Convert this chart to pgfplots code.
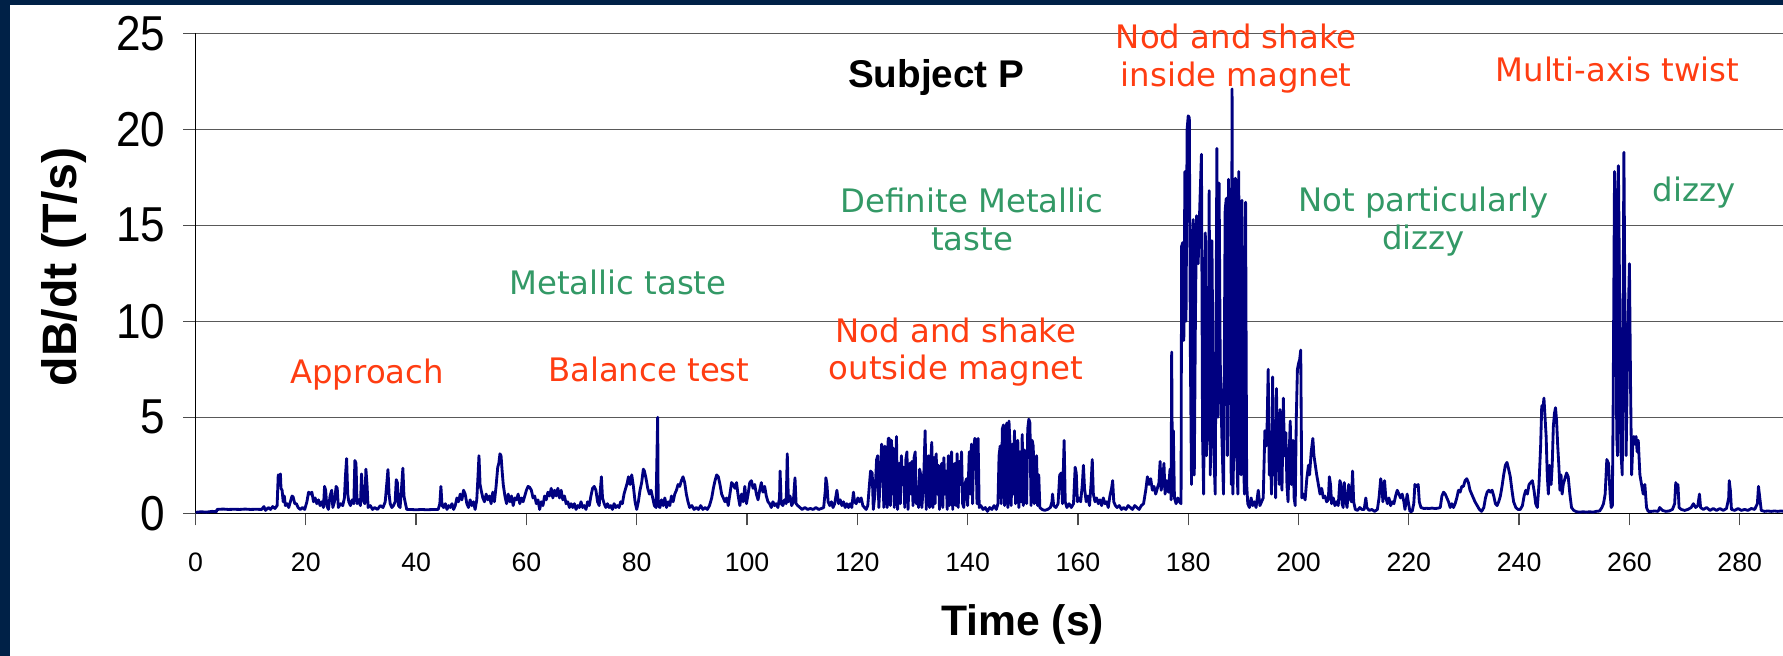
\documentclass[border=0pt]{standalone}
\usepackage{fontspec}
\setmainfont{Liberation Sans}
\newfontfamily\annotfont{DejaVu Sans}
\newfontfamily\ytickfont{Liberation Sans}[FakeStretch=0.9]
\usepackage{pgfplots}
\pgfplotsset{compat=1.18}
\definecolor{slidenavy}{HTML}{002147}
\definecolor{dataline}{HTML}{000080}
\definecolor{annred}{HTML}{FF3D12}
\definecolor{anngreen}{HTML}{339966}

\begin{document}
\begin{tikzpicture}
\fill[white] (0,0) rectangle (534.9pt,196.8pt);
\fill[slidenavy] (0,0) rectangle (2.9pt,196.8pt);
\fill[slidenavy] (0,195.4pt) rectangle (534.9pt,196.8pt);
\path[use as bounding box] (0,0) rectangle (534.9pt,196.8pt);
\begin{axis}[
    at={(58.65pt,42.81pt)}, anchor=south west,
    scale only axis, width=476.25pt, height=144pt,
    xmin=0, xmax=287.85, ymin=0, ymax=25,
    axis x line*=bottom, axis y line*=left,
    axis line style={-, black, line width=0.4pt},
    xtick={0,20,...,280}, ytick={0,5,...,25},
    ymajorgrids, major grid style={black!65, line width=0.45pt},
    tick align=outside, major tick length=3.6pt,
    tick style={black!70, line width=0.4pt},
    /pgf/number format/assume math mode=true,
    xticklabel style={font=\fontsize{8}{8}\selectfont, yshift=-4.7pt},
    yticklabel style={font=\ytickfont\fontsize{14.7}{14.7}\selectfont, xshift=-1.9pt},
    xlabel={Time (s)},
    ylabel={dB/dt (T/s)},
    xlabel style={font=\bfseries\fontsize{12.8}{12.8}\selectfont, at={(axis description cs:0.521,-0.2326)}, anchor=center},
    ylabel style={font=\bfseries\fontsize{14.5}{14.5}\selectfont, at={(axis description cs:-0.0829,0.513)}, anchor=center},
    clip mode=individual,
]
\addplot[dataline, line width=0.85pt, line join=round] coordinates {
(0,0.05) (1,0.08) (2,0.06) (3,0.1) (3.8,0.08) (3.9,0.2) (5,0.22) (6,0.2) (7,0.21) (8,0.2) (9,0.22) (10,0.2) (11,0.21) (12,0.2) (12.4,0.35) (12.7,0.15) (13.2,0.3) (13.6,0.2) (14,0.35) (14.4,0.25) (14.8,0.4)
(15,2.0) (15.2,1.9) (15.4,2.05) (15.5,1.3) (15.7,1.2) (15.9,0.6) (16.1,0.9) (16.3,0.4) (16.6,0.5) (16.9,0.3) (17.2,0.6) (17.5,0.9) (17.7,0.85) (18,0.5) (18.3,0.5) (18.6,0.3) (19,0.2) (19.4,0.3) (19.8,0.2)
(20.2,0.6) (20.5,1.1) (20.8,1.0) (21.1,1.1) (21.4,0.6) (21.7,0.8) (22,0.5) (22.3,0.7) (22.6,0.4) (22.9,0.6) (23.2,0.3) (23.4,1.4) (23.6,1.2) (23.8,0.4) (24.1,0.2) (24.4,0.9) (24.7,1.2) (24.9,0.3) (25.2,0.6) (25.5,1.4) (25.7,1.3) (25.9,0.3) (26.3,0.5) (26.7,0.4) (27,0.8)
(27.2,2.0) (27.4,2.85) (27.6,1.0) (27.8,0.6) (28.1,0.4) (28.4,0.7) (28.7,0.5) (28.9,2.75) (29.1,2.6) (29.3,0.5) (29.6,0.7) (29.9,0.4) (30.1,2.05) (30.3,1.0) (30.5,0.6) (30.7,0.5) (30.9,2.3) (31.1,1.5) (31.3,0.3) (31.7,0.4) (32.1,0.2)
(32.5,0.3) (33,0.2) (33.5,0.4) (34,0.3) (34.4,0.6) (34.7,1.6) (34.9,2.28) (35.1,1.0) (35.3,0.5) (35.6,0.3) (35.9,0.4) (36.2,0.6) (36.4,1.75) (36.6,1.6) (36.8,0.4) (37.1,0.3) (37.4,1.5) (37.6,2.35) (37.8,0.9) (38,0.6) (38.3,0.2)
(39,0.2) (40,0.18) (41,0.2) (42,0.18) (43,0.2) (44,0.2) (44.3,0.5) (44.5,1.4) (44.7,0.4) (45,0.3) (45.3,0.5) (45.6,0.2) (45.9,0.4) (46.2,0.3) (46.5,0.5) (46.8,0.2) (47.1,0.4)
(47.4,0.8) (47.7,0.6) (48,1.0) (48.3,0.7) (48.6,1.2) (48.9,1.0) (49.2,0.5) (49.5,0.3) (49.8,0.7) (50.1,0.4) (50.4,0.6) (50.7,0.2) (51,0.7) (51.2,1.8) (51.4,3.0) (51.6,1.5) (51.8,1.2) (52.1,0.8) (52.4,0.6) (52.7,1.0) (53,0.7) (53.3,0.9) (53.6,0.5) (53.9,1.1) (54.2,0.6) (54.5,1.4) (54.8,2.4) (55,2.6) (55.2,3.1) (55.4,3.0) (55.6,2.2) (55.8,1.5)
(56.1,0.9) (56.4,0.5) (56.7,1.0) (57,0.6) (57.3,0.9) (57.6,0.4) (57.9,0.8) (58.2,0.7) (58.5,1.0) (58.8,0.5) (59.1,0.8) (59.4,0.6) (59.7,0.9) (60,1.2) (60.3,1.4) (60.6,1.35) (60.9,1.2) (61.2,0.8) (61.5,0.9) (61.8,0.5) (62.1,0.7) (62.4,0.2) (62.7,0.6) (63,0.4)
(63.3,0.9) (63.6,0.7) (63.9,1.1) (64.2,0.9) (64.5,1.3) (64.8,0.8) (65.1,1.2) (65.4,0.9) (65.7,1.3) (66,0.8) (66.3,1.2) (66.6,0.7) (66.9,0.9) (67.2,0.5) (67.5,0.6) (67.8,0.3) (68.1,0.5) (68.4,0.3) (68.7,0.5) (69,0.2) (69.3,0.4) (69.6,0.3) (69.9,0.6) (70.2,0.3) (70.5,0.4) (70.8,0.2) (71.1,0.6) (71.4,0.4)
(71.7,0.9) (72,1.3) (72.3,1.4) (72.6,1.2) (72.9,0.6) (73.2,0.4) (73.4,1.2) (73.6,1.9) (73.8,0.8) (74.1,0.5) (74.4,0.3) (74.7,0.5) (75,0.3) (75.3,0.4) (75.6,0.2) (75.9,0.5) (76.2,0.3) (76.5,0.4) (76.8,0.3) (77.1,0.6) (77.4,0.5) (77.7,1.0) (78,1.3) (78.3,1.6) (78.5,1.9) (78.8,1.5) (79.1,2.0) (79.4,1.4) (79.7,0.6) (80,0.2)
(80.3,0.6) (80.6,1.2) (80.9,1.6) (81.2,2.3) (81.4,2.2) (81.7,1.8) (82,1.3) (82.3,1.0) (82.6,1.2) (82.9,0.8) (83.2,0.4) (83.5,0.3) (83.8,5.0) (83.9,0.4) (84.2,0.3)
(84.5,0.7) (84.8,0.4) (85.1,0.8) (85.4,0.3) (85.7,0.6) (86,0.4) (86.3,0.9) (86.6,0.6) (86.9,1.0) (87.2,1.2) (87.5,1.5) (87.8,1.4) (88.1,1.7) (88.4,1.9) (88.7,1.6) (89,1.0) (89.3,0.6) (89.6,0.3) (90,0.4) (90.4,0.2) (90.8,0.3) (91.2,0.2) (91.6,0.4) (92,0.2) (92.4,0.3) (92.8,0.2) (93.2,0.4) (93.6,0.8)
(93.9,1.3) (94.2,1.7) (94.5,2.0) (94.8,1.9) (95.1,1.5) (95.4,1.0) (95.7,0.8) (96,0.6) (96.3,0.8) (96.6,0.4) (96.9,1.0) (97.2,1.6) (97.5,1.5) (97.8,1.3) (98.1,1.6) (98.4,0.9) (98.7,0.4) (99,1.0) (99.3,0.6) (99.6,1.4) (99.9,0.5)
(100.2,1.0) (100.5,1.6) (100.8,1.7) (101.1,1.3) (101.4,1.5) (101.7,1.0) (102,0.7) (102.3,1.2) (102.6,1.6) (102.9,1.1) (103.2,1.4) (103.5,0.9) (103.8,0.6) (104.1,0.5) (104.4,0.3) (104.7,0.6) (105,0.4) (105.3,0.5) (105.6,0.3) (105.9,0.8) (106,2.2) (106.2,0.5) (106.5,0.4) (106.8,0.7) (107.1,0.5) (107.3,3.1) (107.5,0.6) (107.8,0.9) (108.1,0.4) (108.4,0.6) (108.7,1.85) (108.9,0.5) (109.2,0.4) (109.6,0.3)
(110,0.2) (110.5,0.3) (111,0.2) (111.5,0.25) (112,0.2) (112.5,0.3) (113,0.2) (113.5,0.25) (113.9,0.3) (114.2,1.2) (114.3,1.85) (114.5,1.5) (114.7,0.6) (115,0.4)
(115.3,0.6) (115.6,0.3) (115.9,0.5) (116.3,1.2) (116.6,0.5) (116.9,0.7) (117.2,0.4) (117.5,0.6) (117.8,0.3) (118.1,0.5) (118.4,0.3) (118.7,0.5) (119,0.3) (119.3,1.1) (119.5,0.6) (119.8,0.5) (120.1,0.8) (120.4,0.6) (120.7,0.8) (121,0.4) (121.3,0.3) (121.6,0.2) (121.9,0.4)
(122.2,1.5) (122.4,2.2) (122.7,2.1) (122.9,0.2) (123.2,1.0) (123.5,2.8) (123.7,3.0) (123.9,0.3) (124.2,2.0) (124.4,3.6) (124.6,3.3) (124.8,0.3) (125,3.5) (125.2,2.0) (125.4,0.3) (125.6,3.9) (125.8,3.9) (126,0.4) (126.2,3.8) (126.4,1.0) (126.5,3.4) (126.7,0.3) (127,2.5) (127.1,4.0) (127.3,0.2) (127.6,2.6) (127.8,0.5) (128,3.0) (128.2,1.5) (128.4,2.4) (128.6,0.3) (128.8,2.8) (129,3.2) (129.2,0.2) (129.5,2.6) (129.7,1.0) (129.9,2.7) (130.1,0.4) (130.3,2.9) (130.5,3.2) (130.7,0.5) (130.9,1.2) (131.1,0.3) (131.3,2.3) (131.5,2.0) (131.7,0.3) (132,1.5) (132.3,4.3) (132.5,0.2) (132.7,2.4) (132.9,3.0) (133.1,0.3) (133.3,2.6) (133.5,3.7) (133.7,0.3) (133.9,2.9) (134.1,0.5) (134.3,3.1) (134.5,1.0) (134.7,2.5) (134.9,0.2)
(135.1,2.1) (135.3,2.6) (135.5,0.3) (135.7,2.9) (135.9,1.0) (136.1,2.2) (136.3,0.2) (136.5,3.0) (136.7,0.4) (136.9,2.7) (137.1,3.2) (137.3,0.2) (137.5,2.0) (137.7,2.6) (137.9,0.4) (138.1,3.1) (138.3,0.3) (138.5,2.7) (138.7,1.5) (138.9,3.2) (139.1,0.5) (139.3,0.3) (139.6,1.6) (139.8,1.8) (140,0.4) (140.3,3.2) (140.5,1.0) (140.7,3.6) (140.9,0.5) (141.1,3.3) (141.3,3.9) (141.5,3.8) (141.7,0.5) (141.9,3.9) (142.1,0.3)
(142.4,0.4) (142.8,0.2) (143.2,0.3) (143.6,0.1) (144,0.3) (144.4,0.2) (144.8,0.4) (145.2,0.2) (145.5,0.5)
(145.7,3.0) (145.9,3.5) (146.1,0.5) (146.3,4.4) (146.5,4.6) (146.7,0.4) (146.9,4.2) (147.1,4.7) (147.3,0.3) (147.5,4.8) (147.7,3.5) (147.9,0.4) (148.1,3.6) (148.3,1.0) (148.5,4.3) (148.7,0.5) (148.9,3.0) (149.1,3.8) (149.3,0.3) (149.5,3.2) (149.7,0.6) (149.9,4.1) (150.1,0.4) (150.3,3.3) (150.5,2.5) (150.7,0.5) (150.9,4.4) (151.1,4.9) (151.3,4.7) (151.5,0.4) (151.7,3.8) (151.9,3.5) (152.1,0.5) (152.3,2.0) (152.5,3.0) (152.7,0.4) (152.9,2.0) (153.1,0.3)
(153.5,0.2) (154,0.15) (154.5,0.2) (155,0.3) (155.3,0.6) (155.4,1.0) (155.6,0.4) (156,0.3) (156.4,0.5) (156.7,2.0) (157,2.1) (157.2,0.5) (157.5,3.8) (157.7,0.6) (158,0.3) (158.4,0.5) (158.8,0.3) (159.2,0.5) (159.5,2.4) (159.7,2.1) (159.9,0.6) (160.2,0.8) (160.5,0.6) (160.8,1.5) (161,2.5) (161.2,1.3) (161.5,0.6) (161.8,0.9) (162.1,0.4) (162.4,1.6) (162.6,2.8) (162.8,1.0) (163.1,0.6) (163.4,0.8) (163.7,0.5) (164,0.7) (164.3,0.4) (164.6,0.8) (164.9,0.5) (165.2,0.6) (165.5,0.3) (165.8,0.9) (166.1,1.3) (166.3,1.7) (166.5,0.6) (166.8,0.4) (167.1,0.3) (167.5,0.4) (167.9,0.2) (168.3,0.3) (168.7,0.2) (169.1,0.4) (169.5,0.3) (169.9,0.2) (170.3,0.4) (170.7,0.3) (171.1,0.2) (171.5,0.4) (171.9,0.5)
(172.3,1.2) (172.6,1.9) (172.9,1.5) (173.2,1.8) (173.5,1.2) (173.8,1.4) (174.1,1.0) (174.4,1.3) (174.7,1.6) (174.9,2.7) (175.1,1.2) (175.4,1.8) (175.6,2.6) (175.8,1.0) (176.1,1.7) (176.4,1.1) (176.7,2.3) (176.9,0.7) (177,8.4) (177.15,1.0) (177.3,4.3) (177.5,0.8) (177.8,0.5) (178.1,0.8) (178.4,0.6)
(178.7,0.5) (178.8,13.9) (179,14.1) (179.2,9.0) (179.4,17.8) (179.6,10.0) (179.8,20.0) (180,20.7) (180.2,20.6) (180.4,8.0) (180.6,1.5) (180.9,15.3) (181.1,2.0) (181.3,10.0) (181.5,15.5) (181.8,13.0) (182.1,16.0) (182.4,18.7) (182.6,4.0) (182.8,1.0) (183.1,14.6) (183.3,3.0) (183.6,6.0) (183.8,16.8) (184,2.0) (184.3,14.2) (184.6,3.5) (184.9,1.0) (185.2,19.0) (185.4,5.0) (185.6,17.2) (185.8,8.0) (186.1,4.0) (186.4,1.0) (186.7,15.8) (186.9,16.4) (187.1,3.0) (187.3,17.4) (187.6,10.0) (187.8,1.5) (187.95,22.1) (188.1,1.0) (188.3,4.0) (188.55,17.45) (188.8,3.0) (189,1.0) (189.15,17.8) (189.4,6.0) (189.6,2.0) (189.75,16.3) (190,3.0) (190.2,1.0) (190.4,16.2) (190.6,1.5) (190.8,0.5)
(191.1,0.3) (191.4,0.8) (191.7,0.4) (192,0.6) (192.3,0.3) (192.7,1.2) (193,0.4) (193.3,0.6) (193.6,0.8)
(193.9,4.3) (194.1,3.5) (194.3,4.5) (194.5,7.5) (194.7,2.0) (194.9,3.5) (195.1,1.0) (195.3,7.1) (195.5,2.0) (195.7,3.0) (195.85,0.8) (196,6.5) (196.2,2.5) (196.3,5.2) (196.5,1.5) (196.65,5.4) (196.85,2.0) (197,1.2) (197.25,6.0) (197.45,3.0) (197.7,4.2) (197.9,1.5) (198.1,0.6) (198.3,3.0) (198.5,4.8) (198.7,1.5) (199,3.8) (199.2,0.8) (199.4,0.4) (199.6,5.0) (199.8,7.5) (200,7.8) (200.2,8.0) (200.4,8.5) (200.6,0.8) (200.9,1.0)
(201.2,0.7) (201.5,1.8) (201.8,2.5) (202,2.0) (202.3,3.2) (202.6,3.9) (202.8,3.0) (203,2.6) (203.3,2.0) (203.6,1.5) (203.9,1.0) (204.2,1.3) (204.5,0.8) (204.8,0.9) (205.1,0.6) (205.4,0.7) (205.6,1.9) (205.8,1.5) (206,0.5)
(206.3,0.8) (206.6,0.4) (206.9,0.6) (207.2,0.4) (207.5,1.7) (207.7,1.5) (207.9,0.5) (208.1,0.3) (208.3,1.6) (208.5,0.8) (208.8,0.3) (209.1,1.5) (209.3,0.8) (209.6,0.6) (209.8,2.2) (210,0.6) (210.3,0.2) (210.7,0.15) (211.1,0.3) (211.5,0.2) (211.9,0.2) (212.2,0.8) (212.4,0.3) (212.8,0.15) (213.3,0.2) (213.8,0.1) (214.3,0.2)
(214.6,0.8) (214.9,1.8) (215.1,1.5) (215.3,0.6) (215.6,1.7) (215.8,0.9) (216.1,0.5) (216.4,0.8) (216.7,0.4) (217,0.6) (217.3,0.5) (217.6,0.9) (217.9,1.2) (218.2,1.0) (218.5,0.8) (218.8,1.0) (219.1,0.6) (219.3,0.2) (219.7,1.0) (219.9,0.6) (220.2,0.1) (220.6,0.1) (220.9,0.5) (221.1,1.5) (221.4,1.4) (221.7,1.5) (221.9,0.6) (222.2,0.3)
(222.7,0.25) (223.2,0.26) (223.7,0.25) (224.2,0.27) (224.7,0.25) (225.2,0.26) (225.7,0.3) (226,0.9) (226.3,1.1) (226.6,1.0) (226.9,0.8) (227.2,0.6) (227.5,0.3) (227.8,0.5) (228.1,0.3) (228.4,0.5) (228.7,0.8) (229,1.2) (229.3,1.1) (229.6,1.4) (229.9,1.4) (230.2,1.7) (230.5,1.8) (230.8,1.6) (231.1,1.2) (231.4,1.0) (231.7,0.8) (232,0.6) (232.4,0.4) (232.8,0.2) (233.2,0.1) (233.6,0.3) (233.9,0.8)
(234.2,1.1) (234.5,1.2) (234.8,1.1) (235.1,1.2) (235.4,0.9) (235.7,0.5) (236,0.4) (236.3,0.6) (236.6,0.9) (236.9,1.4) (237.2,2.0) (237.5,2.5) (237.8,2.65) (238.1,2.3) (238.4,1.9) (238.7,1.2) (239,0.6) (239.4,0.3) (239.8,0.2) (240.2,0.2) (240.6,0.4) (240.9,0.9) (241.2,1.2) (241.5,1.0) (241.8,1.5) (242.1,1.6) (242.4,1.7) (242.7,1.2) (243,0.5) (243.3,0.3)
(243.6,1.5) (243.9,3.5) (244.1,5.6) (244.3,5.4) (244.5,6.0) (244.7,5.0) (244.9,4.0) (245.1,2.0) (245.3,1.0) (245.5,2.5) (245.8,1.5) (246,2.5) (246.2,4.5) (246.4,5.2) (246.6,5.5) (246.8,4.8) (247,3.5) (247.2,2.5) (247.4,1.2) (247.6,2.0) (247.8,1.0) (248,1.5) (248.3,1.8) (248.6,2.1) (248.9,1.9) (249.2,1.0) (249.5,0.3) (249.9,0.15)
(250.4,0.08) (251,0.06) (251.6,0.08) (252.2,0.06) (252.8,0.08) (253.4,0.06) (254,0.1) (254.6,0.12) (255,0.3) (255.3,0.5) (255.6,1.0) (255.9,2.8) (256.2,2.6) (256.5,1.0) (256.7,0.3) (256.9,0.4)
(257.05,5.6) (257.3,17.8) (257.5,16.0) (257.7,4.0) (257.85,3.0) (258,18.1) (258.2,12.0) (258.3,8.1) (258.5,3.0) (258.7,2.0) (259,18.8) (259.2,10.0) (259.4,3.0) (259.7,9.0) (260,13.0) (260.2,6.8) (260.4,2.0) (260.6,3.5) (260.8,4.0) (261,3.6) (261.2,4.0) (261.4,3.2) (261.6,3.8) (261.9,2.0) (262.2,1.5) (262.5,1.0) (262.8,1.5) (263.1,0.3) (263.4,0.1)
(264,0.1) (264.6,0.12) (265.2,0.1) (265.5,0.3) (266,0.15) (266.6,0.1) (267.2,0.12) (267.8,0.2) (268.2,0.5) (268.4,1.6) (268.6,1.2) (268.8,1.5) (269,0.3) (269.4,0.2) (270,0.15) (270.6,0.2) (271.2,0.3) (271.6,0.5) (272,0.3) (272.4,0.4) (272.7,1.0) (272.9,0.3) (273.4,0.2) (274,0.3) (274.6,0.15) (275.2,0.25) (275.8,0.15) (276.4,0.25) (277,0.15) (277.6,0.25) (278,0.8) (278.1,1.7) (278.3,1.2) (278.5,0.2) (279.1,0.15) (279.7,0.25) (280.3,0.15) (280.9,0.2) (281.5,0.15) (282.1,0.25) (282.7,0.2) (283.2,0.5) (283.4,1.4) (283.6,0.9) (283.9,0.15) (284.5,0.1) (285.1,0.12) (285.7,0.1) (286.3,0.12) (286.9,0.1) (287.5,0.12) (288,0.1)
};
% annotations
\node[font=\bfseries\fontsize{11.6}{11.6}\selectfont] at (axis cs:134.3,22.7) {Subject P};
\begin{scope}[every node/.style={font=\annotfont\fontsize{9.7}{11.3}\selectfont, align=center, inner sep=0pt}]
\node[text=annred] at (axis cs:188.7,23.7) {Nod and shake\\inside magnet};
\node[text=annred] at (axis cs:257.8,23.1) {Multi-axis twist};
\node[text=anngreen] at (axis cs:271.7,16.7) {dizzy};
\node[text=anngreen] at (axis cs:222.7,15.2) {Not particularly\\dizzy};
\node[text=anngreen] at (axis cs:140.8,15.3) {Definite Metallic\\taste};
\node[text=anngreen] at (axis cs:76.6,12.0) {Metallic taste};
\node[text=annred] at (axis cs:31.1,7.2) {Approach};
\node[text=annred] at (axis cs:82.2,7.5) {Balance test};
\node[text=annred] at (axis cs:137.9,8.4) {Nod and shake\\outside magnet};
\end{scope}
\end{axis}
\end{tikzpicture}
\end{document}
